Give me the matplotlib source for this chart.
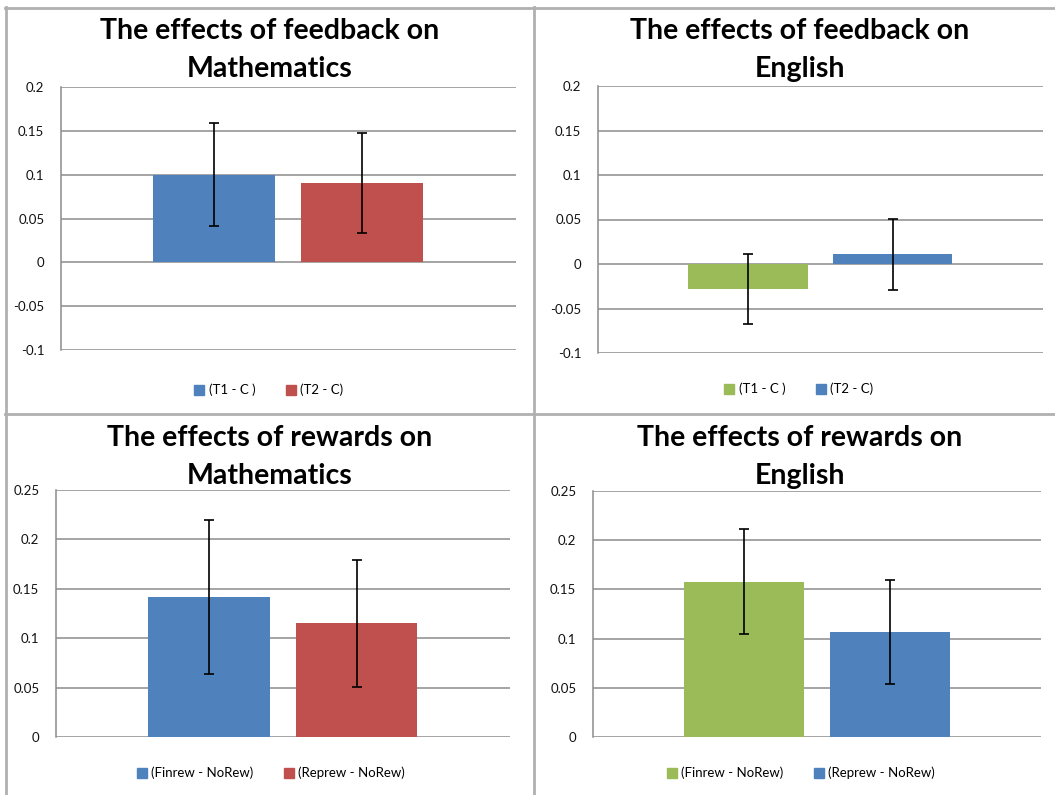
import matplotlib
matplotlib.use("Agg")
import matplotlib.pyplot as plt
from matplotlib.ticker import FuncFormatter
from matplotlib.lines import Line2D

# data
titles = ["The effects of feedback on\nMathematics",
          "The effects of feedback on\nEnglish",
          "The effects of rewards on\nMathematics",
          "The effects of rewards on\nEnglish"]
fb_labels = ["(T1 - C )", "(T2 - C)"]
rw_labels = ["(Finrew - NoRew)", "(Reprew - NoRew)"]

fb_math = [0.100, 0.090]
fb_math_err = [0.059, 0.057]
fb_eng = [-0.028, 0.011]
fb_eng_err = [0.039, 0.040]
rw_math = [0.142, 0.115]
rw_math_err = [0.078, 0.064]
rw_eng = [0.158, 0.107]
rw_eng_err = [0.053, 0.053]

BLUE, RED, GREEN = "#4F81BD", "#C0504D", "#9BBB59"

W, H = 1055, 795
fig = plt.figure(figsize=(W / 100, H / 100), dpi=100)
plt.rcParams['font.family'] = ['Lato', 'DejaVu Sans']


def px_axes(left, top, right, bottom):
    return fig.add_axes([left / W, 1 - bottom / H, (right - left) / W, (bottom - top) / H])


def panel(box, vals, errs, colors, labels, yticks, title, title_xy, leg_xy):
    ax = px_axes(*box)
    xs = [-0.163, 0.162]
    for x, v, e, c, lab in zip(xs, vals, errs, colors, labels):
        ax.bar(x, v, width=0.268, color=c, label=lab, zorder=2)
        ax.errorbar(x, v, yerr=e, fmt='none', ecolor='black', elinewidth=1.2,
                    capsize=3.5, capthick=1.2, zorder=3)
    ax.set_xlim(-0.5, 0.5)
    ax.set_ylim(yticks[0], yticks[-1])
    ax.set_yticks(yticks)
    ax.yaxis.set_major_formatter(FuncFormatter(lambda v, p: "%g" % round(v, 3)))
    ax.set_xticks([])
    ax.grid(axis='y', color='#8c8c8c', linewidth=1.1, zorder=0)
    for s in ['top', 'right', 'bottom']:
        ax.spines[s].set_visible(False)
    ax.spines['left'].set_color('#8c8c8c')
    ax.spines['left'].set_linewidth(1.1)
    ax.tick_params(axis='y', length=0, pad=12, labelsize=9.5, labelcolor='#111111')
    handles = [Line2D([], [], marker='s', linestyle='none', markersize=7.5,
                      markerfacecolor=c, markeredgecolor=c) for c in colors]
    ax.legend(handles, labels, loc='center', bbox_to_anchor=(leg_xy[0] / W, 1 - leg_xy[1] / H),
              bbox_transform=fig.transFigure, ncol=2, frameon=False, fontsize=9.5,
              handletextpad=0.2, columnspacing=2.2, handlelength=1.0)
    fig.text(title_xy[0] / W, 1 - title_xy[1] / H, title, ha='center', va='top',
             fontsize=20.5, fontweight='bold', linespacing=1.55)
    return ax


fb_ticks = [-0.1, -0.05, 0, 0.05, 0.1, 0.15, 0.2]
rw_ticks = [0, 0.05, 0.1, 0.15, 0.2, 0.25]

panel((61, 87, 516, 350), fb_math, fb_math_err, [BLUE, RED], fb_labels,
      fb_ticks, titles[0], (270, 18), (268, 390))
panel((598, 86, 1043, 353), fb_eng, fb_eng_err, [GREEN, BLUE], fb_labels,
      fb_ticks, titles[1], (800, 18), (798, 389))
panel((56, 490, 510, 737), rw_math, rw_math_err, [BLUE, RED], rw_labels,
      rw_ticks, titles[2], (270, 425), (270, 773))
panel((593, 491, 1041, 737), rw_eng, rw_eng_err, [GREEN, BLUE], rw_labels,
      rw_ticks, titles[3], (800, 425), (800, 773))

# panel borders
border = dict(color='#b0b0b0', linewidth=2, transform=fig.transFigure)
fig.add_artist(Line2D([5 / W, 1], [1 - 7.5 / H, 1 - 7.5 / H], **border))
fig.add_artist(Line2D([5.5 / W, 5.5 / W], [0, 1 - 7 / H], **border))
fig.add_artist(Line2D([534 / W, 534 / W], [0, 1 - 7 / H], **border))
fig.add_artist(Line2D([5 / W, 1], [1 - 414 / H, 1 - 414 / H], **border))

plt.savefig("out.png", dpi=100)
